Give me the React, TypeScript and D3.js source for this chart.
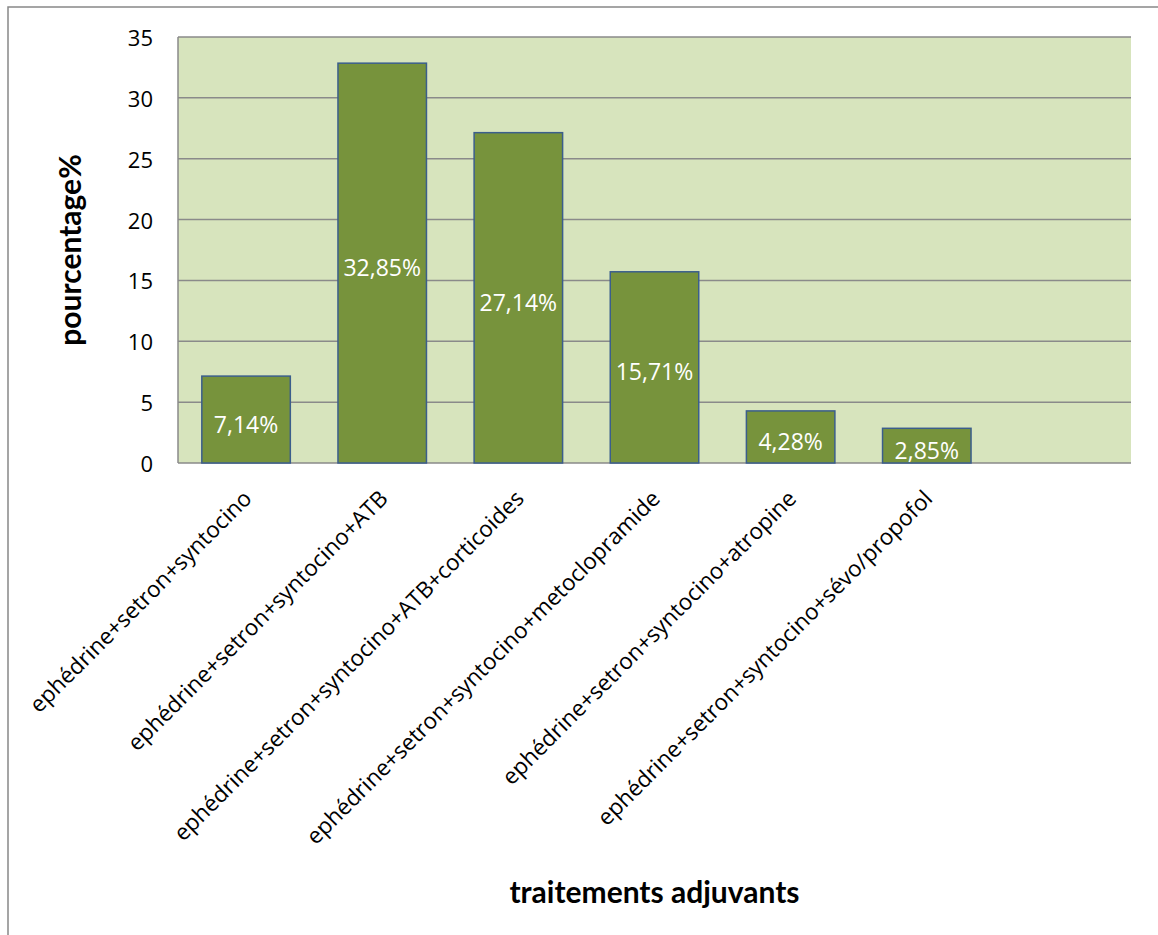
import React from "react";
import * as d3 from "d3";

const categories = [
  "ephédrine+setron+syntocino",
  "ephédrine+setron+syntocino+ATB",
  "ephédrine+setron+syntocino+ATB+corticoides",
  "ephédrine+setron+syntocino+metoclopramide",
  "ephédrine+setron+syntocino+atropine",
  "ephédrine+setron+syntocino+sévo/propofol",
];
const values = [7.14, 32.85, 27.14, 15.71, 4.28, 2.85];
const valueLabels = ["7,14%", "32,85%", "27,14%", "15,71%", "4,28%", "2,85%"];
const yTicks = [0, 5, 10, 15, 20, 25, 30, 35];
const yTitle = "pourcentage%";
const xTitle = "traitements adjuvants";

const W = 1158;
const H = 935;
const plot = { left: 178, right: 1131, top: 37, bottom: 463 };
const FONT = "'Open Sans', Lato, sans-serif";
const TITLE_FONT = "Lato, 'Open Sans', sans-serif";

export default function App() {
  const slots = d3.range(categories.length + 1);
  const x = d3
    .scaleBand<number>()
    .domain(slots)
    .range([plot.left, plot.right])
    .paddingInner(0.35)
    .paddingOuter(0.175);
  const y = d3.scaleLinear().domain([0, 35]).range([plot.bottom, plot.top]);
  const cx = (i: number) => (x(i) as number) + x.bandwidth() / 2;

  return (
    <svg
      width={W}
      height={H}
      style={{ position: "absolute", left: 0, top: 0, background: "#fff" }}
      fontFamily={FONT}
    >
      <rect x={8} y={7} width={W + 10} height={H + 10} fill="#fff" stroke="#888" strokeWidth={1.5} />
      <rect
        x={plot.left}
        y={plot.top}
        width={plot.right - plot.left}
        height={plot.bottom - plot.top}
        fill="#d7e4bd"
      />
      {yTicks.map((t) => (
        <line
          key={"g" + t}
          x1={plot.left}
          x2={plot.right}
          y1={y(t)}
          y2={y(t)}
          stroke="#8a8a8a"
          strokeWidth={1.5}
        />
      ))}
      <line x1={plot.left} x2={plot.left} y1={plot.top} y2={plot.bottom} stroke="#8a8a8a" strokeWidth={1.5} />
      {yTicks.map((t) => (
        <text
          key={"t" + t}
          x={153}
          y={y(t)}
          textAnchor="end"
          dominantBaseline="central"
          fontSize={22}
          fill="#000"
        >
          {t}
        </text>
      ))}
      {values.map((v, i) => (
        <g key={"b" + i}>
          <rect
            x={x(i)}
            y={y(v)}
            width={x.bandwidth()}
            height={y(0) - y(v)}
            fill="#77933c"
            stroke="#3b5e8c"
            strokeWidth={1.5}
          />
          <text
            x={cx(i)}
            y={(y(v) + y(0)) / 2 + 4}
            textAnchor="middle"
            dominantBaseline="central"
            fontSize={23}
            fill="#fff"
          >
            {valueLabels[i]}
          </text>
        </g>
      ))}
      {categories.map((c, i) => (
        <text
          key={"c" + i}
          transform={`translate(${cx(i) + 7},${plot.bottom + 37}) rotate(-45)`}
          textAnchor="end"
          fontSize={22.5}
          fill="#000"
        >
          {c}
        </text>
      ))}
      <text
        transform={`translate(81,${(plot.top + plot.bottom) / 2}) rotate(-90)`}
        textAnchor="middle"
        fontFamily={TITLE_FONT}
        fontSize={30}
        fontWeight="bold"
        fill="#000"
      >
        {yTitle}
      </text>
      <text
        x={(plot.left + plot.right) / 2}
        y={903}
        textAnchor="middle"
        fontFamily={TITLE_FONT}
        fontSize={30}
        fontWeight="bold"
        fill="#000"
      >
        {xTitle}
      </text>
    </svg>
  );
}
